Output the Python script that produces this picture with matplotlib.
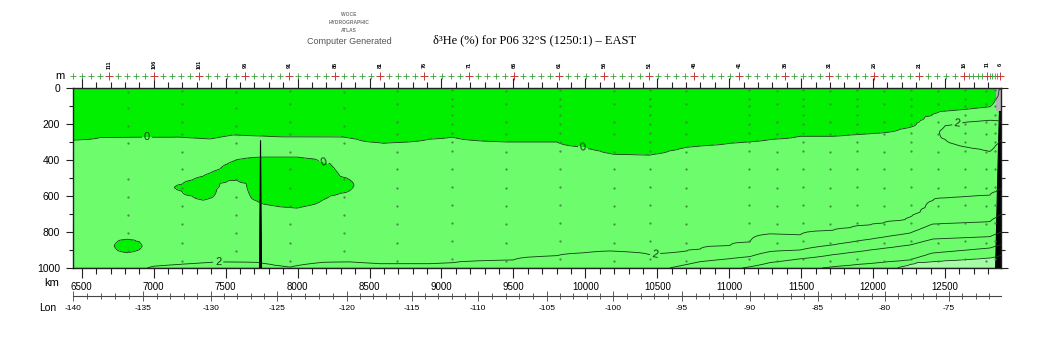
import numpy as np
import matplotlib
matplotlib.use('Agg')
import matplotlib.pyplot as plt
from matplotlib.ticker import MultipleLocator, FixedLocator, FormatStrFormatter

plt.rcParams['axes.unicode_minus'] = False
plt.rcParams['font.family'] = ['Liberation Sans', 'DejaVu Sans']

# section limits (km along track, m depth)
KM_MIN, KM_MAX = 6437, 12889
Z_MAX = 1000

# isolines of d3He (%) along the section: distance (km) and depth (m)
c0_km = [6439, 6627, 6905, 7162, 7391, 7551, 7898, 8315, 8593, 9073, 9455, 9803, 9983,
         10192, 10449, 10706, 11005, 11144, 11492, 11721, 12069, 12270, 12360, 12465,
         12652, 12812, 12854, 12875, 12889]
c0_z = [289, 275, 272, 272, 283, 261, 272, 272, 306, 272, 300, 300, 328,
        367, 372, 328, 306, 298, 267, 267, 248, 215, 160, 131,
        118, 104, 60, 10, 5]

c2_km = [6439, 6905, 6974, 7183, 7440, 7718, 7843, 7948, 8051, 8177, 8364, 8573, 8920,
         9497, 9803, 10053, 10171, 10470, 10658, 10797, 11005, 11144, 11283, 11492,
         11839, 12222, 12326, 12430, 12652, 12812, 12889]
c2_z = [1080, 1030, 995, 980, 967, 969, 985, 995, 980, 969, 967, 978, 978,
        956, 933, 911, 906, 928, 911, 895, 875, 855, 811, 817,
        778, 733, 690, 615, 604, 595, 560]

c4_km = [6439, 10101, 10588, 10797, 11144, 11283, 11492, 12256, 12416, 12812, 12889]
c4_z = [1200, 1060, 1000, 965, 937, 909, 900, 806, 756, 743, 700]

c6_km = [6439, 10797, 11144, 11283, 12256, 12416, 12812, 12889]
c6_z = [1400, 1040, 993, 970, 872, 839, 826, 800]

c8_km = [6439, 11492, 11721, 12256, 12416, 12812, 12889]
c8_z = [1600, 1015, 993, 956, 917, 889, 870]

c10_km = [6439, 11978, 12187, 12305, 12812, 12889]
c10_z = [1800, 1020, 994, 970, 944, 930]

c12_km = [6439, 12187, 12812, 12889]
c12_z = [2000, 1150, 1100, 1080]

# pools below 0 % (top / bottom depth, equal at the tips)
low1_km = [6682, 6752, 6814, 6877, 6946]
low1_top = [878, 852, 842, 850, 878]
low1_bot = [878, 903, 915, 905, 878]

low2_km = [7127, 7197, 7266, 7343, 7405, 7461, 7516, 7579, 7642, 7683, 7760, 7878,
           7996, 8121, 8225, 8295, 8351, 8413]
low2_top = [550, 535, 512, 490, 468, 450, 420, 398, 390, 386, 383, 383,
            383, 395, 420, 490, 505, 540]
low2_bot = [550, 575, 600, 622, 608, 528, 515, 511, 530, 615, 644, 660,
            667, 645, 600, 585, 575, 540]

# core above 2 % on the eastern slope
high_km = [12450, 12500, 12570, 12652, 12742, 12812, 12875, 12889]
high_top = [250, 210, 197, 188, 182, 178, 182, 185]
high_bot = [250, 285, 312, 328, 340, 352, 300, 290]

# bottom profile (ridge spike and continental slope)
bathy_km = [6437, 7732, 7739, 7746, 12848, 12862, 12871, 12875, 12889]
bathy_z = [1000, 1000, 290, 1000, 1000, 520, 240, 125, 125]
shelf_km = [12855, 12889]
shelf_z = [125, 125]

# stations (labelled every fifth)
stn_num = [116, 111, 106, 101, 96, 91, 86, 81, 76, 71, 66, 61, 56, 51, 46, 41, 36,
           31, 26, 21, 16, 11, 6]
stn_km = [6377, 6690, 7002, 7315, 7634, 7940, 8260, 8573, 8878, 9191, 9504, 9817,
          10129, 10442, 10755, 11068, 11388, 11694, 12007, 12319, 12632, 12792, 12882]

# bottle sample columns and depths
bottle_km = [6821, 7197, 7572, 7948, 8323, 8691, 9073, 9448, 9824, 10199, 10449,
             10700, 11137, 11332, 11513, 11700, 11888, 12075, 12263, 12451, 12638,
             12784, 12847]
bottle_sets = [
    [20, 110, 210, 305, 505, 605, 705, 805, 905],
    [15, 90, 190, 255, 355, 450, 555, 655, 755, 860, 960],
    [10, 60, 100, 150, 200, 250, 300, 350, 450, 550, 650, 750, 850, 950],
]
bottle_pick = [0, 1, 0, 1, 0, 1, 2, 1, 2, 1, 2, 1, 2, 1, 2, 1, 2, 1, 2, 1, 2, 1, 2]

# longitude marks along the track
lon_vals = [-145, -140, -135, -130, -125, -120, -115, -110, -105, -100, -95, -90,
            -85, -80, -75, -70]
lon_km = [5950, 6440, 6926, 7398, 7857, 8343, 8795, 9254, 9733, 10192, 10672,
          11144, 11617, 12082, 12527, 12990]

# --- build gridded field from the isolines ---
grid_km = np.unique(np.concatenate([c0_km, c2_km, c4_km, c6_km, c8_km, c10_km,
                                    low1_km, low2_km, high_km, [KM_MIN, KM_MAX]]))
depth = np.linspace(0, Z_MAX, 201)

iso = [np.interp(grid_km, k, z) for k, z in
       [(c0_km, c0_z), (c2_km, c2_z), (c4_km, c4_z), (c6_km, c6_z),
        (c8_km, c8_z), (c10_km, c10_z), (c12_km, c12_z)]]


def pool(km, top, bot):
    inside = (grid_km >= km[0]) & (grid_km <= km[-1])
    t = np.where(inside, np.interp(grid_km, km, top), 0)
    b = np.where(inside, np.interp(grid_km, km, bot), 0)
    return t, b


l1t, l1b = pool(low1_km, low1_top, low1_bot)
l2t, l2b = pool(low2_km, low2_top, low2_bot)
lo_top, lo_bot = l1t + l2t, l1b + l2b
hi_top, hi_bot = pool(high_km, high_top, high_bot)

field = np.zeros((depth.size, grid_km.size))
for i in range(grid_km.size):
    z0, z2 = iso[0][i], iso[1][i]
    zs, vs = [0, z0], [-3, 0]
    if lo_bot[i] - lo_top[i] > 1:
        zs += [(z0 + lo_top[i]) / 2, lo_top[i], (lo_top[i] + lo_bot[i]) / 2, lo_bot[i]]
        vs += [1, 0, -1, 0]
    if hi_bot[i] - hi_top[i] > 1:
        zs += [hi_top[i], (hi_top[i] + hi_bot[i]) / 2, hi_bot[i], (hi_bot[i] + z2) / 2]
        vs += [2, 2.5, 2, 1.5]
    zs += [z[i] for z in iso[1:]]
    vs += [2, 4, 6, 8, 10, 12]
    field[:, i] = np.interp(depth, zs, vs)

# --- figure ---
fig = plt.figure(figsize=(10.5, 3.5), dpi=100)
ax = fig.add_axes([72.7 / 1050, 82 / 350, 928.3 / 1050, 180 / 350])

ax.contourf(grid_km, depth, field, levels=[-10, 0, 10, 30],
            colors=['#00f000', '#6cfc6c', '#a6fca6'])
cs = ax.contour(grid_km, depth, field, levels=[0, 2, 4, 6, 8, 10],
                colors='#123a12', linewidths=0.6)
ax.clabel(cs, fmt='%d', fontsize=8, inline=True, inline_spacing=2,
          manual=[(6954, 272), (8183, 406), (9985, 328), (7448, 967),
                  (10485, 922), (12583, 183)])

for k, p in zip(bottle_km, bottle_pick):
    zz = bottle_sets[p]
    ax.plot([k] * len(zz), zz, ls='none', marker='.', ms=1.2, color='#3f8a3f')

ax.fill_between(bathy_km, bathy_z, Z_MAX, color='black', lw=0.8, edgecolor='black')
ax.fill_between(shelf_km, 0, shelf_z, color='#b4b4b4', lw=0)

ax.set_xlim(KM_MIN, KM_MAX)
ax.set_ylim(Z_MAX, 0)
ax.xaxis.set_major_locator(MultipleLocator(500))
ax.xaxis.set_minor_locator(MultipleLocator(100))
ax.yaxis.set_major_locator(MultipleLocator(200))
ax.yaxis.set_minor_locator(MultipleLocator(100))
ax.xaxis.set_major_formatter(FormatStrFormatter('%d'))
ax.tick_params(which='both', direction='out', top=True, right=True, width=0.8,
               color='#222222')
ax.tick_params(which='major', length=7)
ax.tick_params(which='minor', length=4)
ax.tick_params(axis='x', labelsize=7, pad=3)
ax.tick_params(axis='y', which='major', length=5, labelsize=7.5, pad=4)
ax.tick_params(axis='y', which='minor', length=3)
for s in ax.spines.values():
    s.set_linewidth(1.0)
    s.set_color('#222222')

# longitude axis below the km axis
def km2lon(x):
    return np.interp(x, lon_km, lon_vals)


def lon2km(v):
    return np.interp(v, lon_vals, lon_km)


sec = ax.secondary_xaxis(-28 / 180, functions=(km2lon, lon2km))
sec.xaxis.set_major_locator(FixedLocator(lon_vals[1:-1]))
sec.xaxis.set_minor_locator(FixedLocator(np.arange(-140, -71)))
sec.xaxis.set_major_formatter(FormatStrFormatter('%d'))
sec.tick_params(which='both', direction='inout', width=0.6, color='#444444')
sec.tick_params(which='major', length=7, labelsize=6, pad=3)
sec.tick_params(which='minor', length=5)
sec.spines['bottom'].set_linewidth(0.8)
sec.spines['bottom'].set_color('#444444')

# station crosses and numbers above the section
num_asc = stn_num[::-1]
km_asc = stn_km[::-1]
all_n = np.arange(6, 116)
all_km = np.interp(all_n, num_asc, km_asc)
keep = all_km >= KM_MIN
trans = ax.get_xaxis_transform()
ax.plot(all_km[keep], np.full(keep.sum(), 1.067), ls='none', marker='+', ms=4,
        mew=0.6, color='#3aa03a', transform=trans, clip_on=False)
for n, k in zip(stn_num, stn_km):
    if k < KM_MIN:
        continue
    ax.plot([k], [1.067], marker='+', ms=6, mew=0.7, color='#c83c3c',
            transform=trans, clip_on=False)
    ax.text(k, 1.13, str(n), rotation=90, fontsize=4, fontweight='bold',
            ha='center', va='center', transform=trans, clip_on=False)

# labels and headers
fig.text(60 / 1050, 1 - 76 / 350, 'm', fontsize=8, ha='center', va='center')
fig.text(52 / 1050, 1 - 283 / 350, 'km', fontsize=8, ha='center', va='center')
fig.text(48 / 1050, 1 - 308 / 350, 'Lon', fontsize=7.5, ha='center', va='center')
fig.text(535 / 1050, 1 - 40 / 350, 'δ³He (%) for P06 32°S (1250:1) – EAST',
         fontsize=9, family=['Liberation Serif', 'DejaVu Serif'],
         ha='center', va='center')
for txt, yy in [('WOCE', 15), ('HYDROGRAPHIC', 22), ('ATLAS', 30)]:
    fig.text(349 / 1050, 1 - yy / 350, txt, fontsize=3.5, fontweight='bold',
             color='#777777', ha='center', va='center')
fig.text(349 / 1050, 1 - 41 / 350, 'Computer Generated', fontsize=6.5,
         color='#555555', ha='center', va='center')

fig.savefig('out.png', dpi=100)
